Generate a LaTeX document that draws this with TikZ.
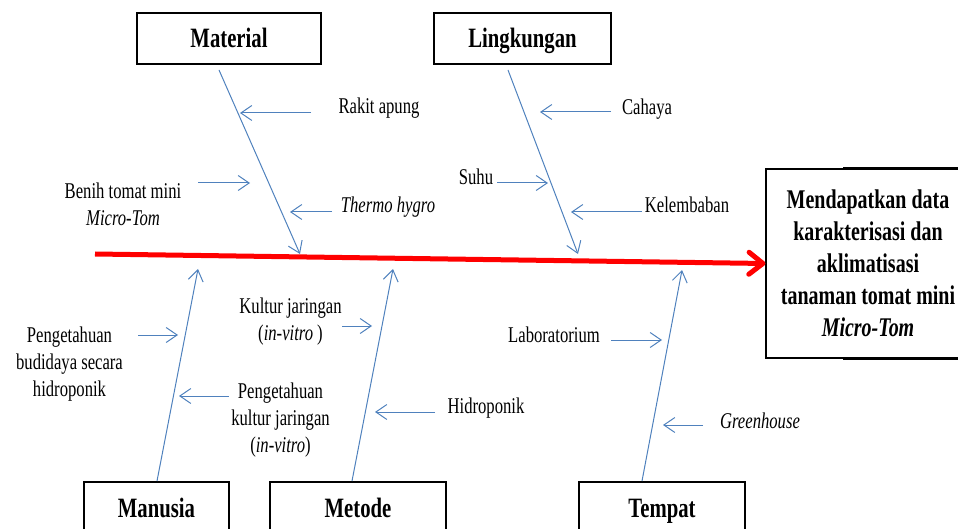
\documentclass[tikz,border=0pt]{standalone}
\usepackage{fontspec}
\setmainfont{Liberation Serif}[FakeStretch=0.74]
\usetikzlibrary{arrows.meta}
\definecolor{bonec}{RGB}{79,129,189}
\begin{document}
\begin{tikzpicture}[x=1pt,y=-1pt,
  catbox/.style={draw=black,line width=1.1pt,fill=white,minimum height=51pt,inner sep=0pt,
    font=\fontsize{28}{32}\selectfont\bfseries,text height=19pt,text depth=0pt},
  goalbox/.style={draw=black,line width=1.1pt,fill=white,minimum width=204pt,minimum height=189pt,
    align=center,inner sep=0pt,font=\fontsize{27}{32}\selectfont\bfseries},
  lbl/.style={font=\fontsize{22.5}{27}\selectfont,align=center,inner sep=0pt},
  bone/.style={draw=bonec,line width=1pt,-{Straight Barb[length=11pt,width=15pt]}},
  spine/.style={draw=red,line width=5pt,-{Straight Barb[length=14pt,width=22pt,round]}}
]
\useasboundingbox (0,0) rectangle (958,529);
\clip (0,0) rectangle (958,529);

% category boxes
\node[catbox,minimum width=184pt] (material) at (229,38.5) {Material};
\node[catbox,minimum width=177pt] (lingkungan) at (522.5,38.5) {Lingkungan};
\node[catbox,minimum width=145pt] (manusia) at (156.5,507.5) {Manusia};
\node[catbox,minimum width=176pt] (metode) at (358,507.5) {Metode};
\node[catbox,minimum width=166pt] (tempat) at (662,507.5) {Tempat};

% goal box
\node[goalbox] (goal) at (868,263.5) {Mendapatkan data\\karakterisasi dan\\aklimatisasi\\tanaman tomat mini\\\textit{Micro-Tom}};
\draw[line width=2.6pt] ([xshift=78pt]goal.north west) -- ([xshift=20pt]goal.north east);
\draw[line width=2.6pt] ([xshift=78pt]goal.south west) -- ([xshift=20pt]goal.south east);

% spine
\coordinate (tail) at (95,254);
\draw[spine] (tail) -- (goal.west);

% bones
\coordinate (m0) at (219,70);  \coordinate (m1) at (300,254);
\coordinate (l0) at (508,70);  \coordinate (l1) at (578,254);
\coordinate (h0) at (157,481); \coordinate (h1) at (198,269);
\coordinate (d0) at (352,481); \coordinate (d1) at (393,269);
\coordinate (t0) at (642,481); \coordinate (t1) at (682,270);
\draw[bone] (m0) -- (m1);
\draw[bone] (l0) -- (l1);
\draw[bone] (h0) -- (h1);
\draw[bone] (d0) -- (d1);
\draw[bone] (t0) -- (t1);

% labels
\node[lbl,anchor=base] (rakit) at (379,114) {Rakit apung};
\node[lbl] (benih) at (123,204.75) {Benih tomat mini\\\textit{Micro-Tom}};
\node[lbl,anchor=base] (thermo) at (388,213) {\textit{Thermo hygro}};
\node[lbl,anchor=base] (cahaya) at (647,115) {Cahaya};
\node[lbl,anchor=base] (suhu) at (476,185) {Suhu};
\node[lbl,anchor=base] (lembab) at (687,213) {Kelembaban};
\node[lbl] (budidaya) at (69.5,363.7) {Pengetahuan\\budidaya secara\\hidroponik};
\node[lbl] (pkultur) at (280.5,419.7) {Pengetahuan\\kultur jaringan\\(\textit{in-vitro})};
\node[lbl] (kultur) at (290.5,322) {Kultur jaringan\\(\textit{in-vitro} )};
\node[lbl,anchor=base] (hidro) at (486,413) {Hidroponik};
\node[lbl,anchor=base] (lab) at (554,342) {Laboratorium};
\node[lbl,anchor=base] (green) at (760,428) {\textit{Greenhouse}};

% cause arrows
\coordinate (a1s) at (311,113); \coordinate (a1e) at (240,113);
\coordinate (a2s) at (198,183); \coordinate (a2e) at (250,183);
\coordinate (a3s) at (332,212); \coordinate (a3e) at (290,212);
\coordinate (b1s) at (611,112); \coordinate (b1e) at (540,112);
\coordinate (b2s) at (497,183); \coordinate (b2e) at (548,183);
\coordinate (b3s) at (642,212); \coordinate (b3e) at (571,212);
\coordinate (c1s) at (138,335); \coordinate (c1e) at (178,335);
\coordinate (c2s) at (229,396); \coordinate (c2e) at (179,396);
\coordinate (e1s) at (342,326); \coordinate (e1e) at (372,326);
\coordinate (e2s) at (435,412); \coordinate (e2e) at (375,412);
\coordinate (f1s) at (611,340); \coordinate (f1e) at (662,340);
\coordinate (f2s) at (703,425); \coordinate (f2e) at (663,425);
\foreach \s/\e in {a1s/a1e,a2s/a2e,a3s/a3e,b1s/b1e,b2s/b2e,b3s/b3e,c1s/c1e,c2s/c2e,e1s/e1e,e2s/e2e,f1s/f1e,f2s/f2e}
  \draw[bone] (\s) -- (\e);
\end{tikzpicture}
\end{document}
